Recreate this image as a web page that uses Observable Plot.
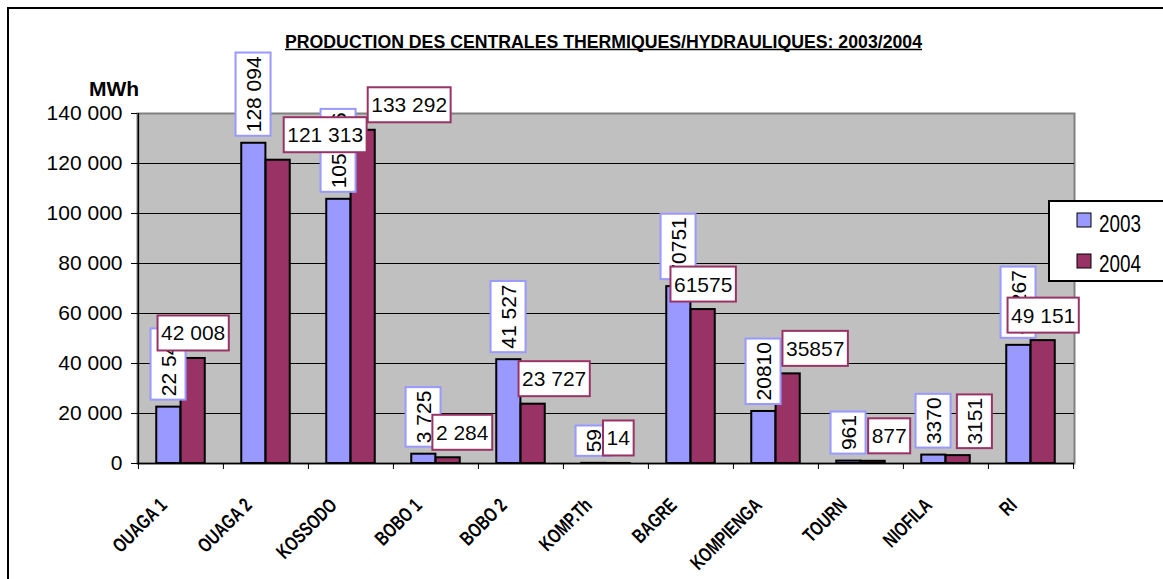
<!DOCTYPE html>
<html>
<head>
<meta charset="utf-8">
<script src="https://cdn.jsdelivr.net/npm/d3@7"></script>
<script src="https://cdn.jsdelivr.net/npm/@observablehq/plot@0.6"></script>
<style>
  html, body { margin: 0; padding: 0; background: #fff; }
  #wrap { position: relative; width: 1163px; height: 579px; overflow: hidden; background: #fff; }
  #wrap > svg { position: absolute; left: 0; top: 0; }
</style>
</head>
<body>
<div id="wrap"></div>
<script>
// ---- data ----
const categories = ["OUAGA 1", "OUAGA 2", "KOSSODO", "BOBO 1", "BOBO 2", "KOMP.Th", "BAGRE", "KOMPIENGA", "TOURN", "NIOFILA", "RI"];
const values2003 = [22543, 128094, 105676, 3725, 41527, 59, 70751, 20810, 961, 3370, 47267];
const values2004 = [42008, 121313, 133292, 2284, 23727, 14, 61575, 35857, 877, 3151, 49151];
const labels2003 = ["22 543", "128 094", "105 676", "3 725", "41 527", "59", "70751", "20810", "961", "3370", "47 267"];
const labels2004 = ["42 008", "121 313", "133 292", "2 284", "23 727", "14", "61575", "35857", "877", "3151", "49 151"];
const seriesNames = ["2003", "2004"];
const yTicks = [0, 20000, 40000, 60000, 80000, 100000, 120000, 140000];
const titleText = "PRODUCTION DES CENTRALES THERMIQUES/HYDRAULIQUES: 2003/2004";
const unitText = "MWh";

// ---- layout / style (not data) ----
const colors = ["#9999FF", "#993366"];
const W = 1163, H = 579, mL = 137, mR = 89, mT = 113, mB = 116;
const bw = (W - mL - mR) / categories.length;
const barW = bw / 3.5;
// manual nudges of the 2004 data-label boxes (px), as dragged in the original
const labelNudge2004 = {"OUAGA 2": 47, "KOSSODO": 46, "BOBO 1": 14, "BOBO 2": 21, "KOMPIENGA": 27, "TOURN": 16, "NIOFILA": 17};
const verticalLabels2004 = new Set(["NIOFILA"]);
const sans = "'Liberation Sans', Arial, sans-serif";
const fmt = v => d3.format(",")(v).replace(/,/g, " ");

const rows = categories.map((c, i) => ({
  cat: c, v2003: values2003[i], v2004: values2004[i], l2003: labels2003[i], l2004: labels2004[i]
}));

// fillOpacity values below only tag the label groups so boxes can be drawn behind them
const TAG03 = 0.999, TAG04 = 0.998, TAGX = 0.997;

const marks = [
  Plot.frame({fill: "#C0C0C0", stroke: "#808080", strokeWidth: 2}),
  Plot.ruleY(yTicks.filter(t => t > 0 && t < 140000), {stroke: "#000", strokeWidth: 1}),
  Plot.barY(rows, {x: "cat", y: "v2003", fill: colors[0], stroke: "#000", strokeWidth: 2,
    insetLeft: bw / 2 - barW, insetRight: bw / 2}),
  Plot.barY(rows, {x: "cat", y: "v2004", fill: colors[1], stroke: "#000", strokeWidth: 2,
    insetLeft: bw / 2, insetRight: bw / 2 - barW}),
  Plot.ruleY([0], {stroke: "#000", strokeWidth: 1.5}),
  Plot.ruleX([categories[0]], {x: d => d, dx: -bw / 2, stroke: "#000", strokeWidth: 1.5}),
  Plot.axisY(yTicks, {tickSize: 6, tickPadding: 9, tickFormat: fmt, fontSize: 21, fontFamily: sans, label: null}),
  Plot.axisX(categories, {tickSize: 6, tickFormat: () => "", dx: -bw / 2, label: null}),
  Plot.axisX([categories[categories.length - 1]], {tickSize: 6, tickFormat: () => "", dx: bw / 2, label: null}),
  Plot.axisX(categories, {tickSize: 0, tickPadding: 34, tickRotate: -45, dx: -22, fontSize: 20, fontFamily: sans,
    fillOpacity: TAGX, label: null}),
  Plot.text(rows, {x: "cat", y: "v2003", text: "l2003", rotate: -90, textAnchor: "start", lineAnchor: "middle",
    dx: -barW / 2, dy: -11, fontSize: 21, fontFamily: sans, fill: "#000", fillOpacity: TAG03}),
  ...rows.map(d => verticalLabels2004.has(d.cat)
    ? Plot.text([d], {x: "cat", y: "v2004", text: "l2004", rotate: -90, textAnchor: "start", lineAnchor: "middle",
        dx: barW / 2 + (labelNudge2004[d.cat] || 0), dy: -11, fontSize: 21, fontFamily: sans, fill: "#000", fillOpacity: TAG04})
    : Plot.text([d], {x: "cat", y: "v2004", text: "l2004", textAnchor: "middle", lineAnchor: "bottom",
        dx: barW / 2 + (labelNudge2004[d.cat] || 0), dy: -18, fontSize: 21, fontFamily: sans, fill: "#000", fillOpacity: TAG04}))
];

const chart = Plot.plot({
  width: W, height: H,
  marginLeft: mL, marginRight: mR, marginTop: mT, marginBottom: mB,
  x: {domain: categories, padding: 0, label: null},
  y: {domain: [0, 140000], label: null},
  style: {background: "transparent", fontFamily: sans, color: "#000", overflow: "visible"},
  marks
});
const wrap = document.getElementById("wrap");
wrap.appendChild(chart);

// boxes behind data labels
const NS = "http://www.w3.org/2000/svg";
[[TAG03, colors[0]], [TAG04, colors[1]]].forEach(([tag, col]) => {
  chart.querySelectorAll(`g[fill-opacity="${tag}"] text`).forEach(t => {
    const bb = t.getBBox();
    const r = document.createElementNS(NS, "rect");
    r.setAttribute("x", bb.x - 3.5);
    r.setAttribute("y", bb.y - 6);
    r.setAttribute("width", bb.width + 7);
    r.setAttribute("height", bb.height + 12);
    r.setAttribute("fill", "#fff");
    r.setAttribute("fill-opacity", 1);
    r.setAttribute("stroke", col);
    r.setAttribute("stroke-width", 2);
    const tr = t.getAttribute("transform");
    if (tr) r.setAttribute("transform", tr);
    t.parentNode.insertBefore(r, t);
  });
});
// condensed category labels (narrow face emulated by horizontal compression along the text)
chart.querySelectorAll(`g[fill-opacity="${TAGX}"] text`).forEach(t => {
  const tr = t.getAttribute("transform") || "";
  t.setAttribute("transform", tr + " scale(0.74,1)");
  t.setAttribute("dy", "0.32em");
  t.setAttribute("font-weight", "bold");
  t.setAttribute("fill-opacity", 1);
});

// overlay: border, title, unit, legend
const ov = d3.select(wrap).append("svg").attr("width", W).attr("height", H);
ov.append("rect").attr("x", 8).attr("y", 8).attr("width", 1300).attr("height", 700)
  .attr("fill", "none").attr("stroke", "#000").attr("stroke-width", 2);
ov.append("text").attr("x", 285).attr("y", 48).attr("textLength", 637).attr("lengthAdjust", "spacingAndGlyphs")
  .attr("font-family", sans).attr("font-weight", "bold").attr("font-size", 18).attr("fill", "#000").text(titleText);
ov.append("line").attr("x1", 285).attr("x2", 922).attr("y1", 49.5).attr("y2", 49.5).attr("stroke", "#000").attr("stroke-width", 1.6);
ov.append("text").attr("x", 89).attr("y", 96).attr("font-family", sans).attr("font-weight", "bold")
  .attr("font-size", 21).attr("fill", "#000").text(unitText);
const lg = ov.append("g");
lg.append("rect").attr("x", 1049).attr("y", 201).attr("width", 140).attr("height", 80)
  .attr("fill", "#fff").attr("stroke", "#000").attr("stroke-width", 2);
seriesNames.forEach((s, i) => {
  lg.append("rect").attr("x", 1077).attr("y", 213 + i * 41).attr("width", 14).attr("height", 14)
    .attr("fill", colors[i]).attr("stroke", "#000").attr("stroke-width", 1);
  lg.append("text").attr("x", 1099).attr("y", 232 + i * 40).attr("textLength", 42).attr("lengthAdjust", "spacingAndGlyphs")
    .attr("font-family", sans).attr("font-size", 23).attr("fill", "#000").text(s);
});
</script>
</body>
</html>
